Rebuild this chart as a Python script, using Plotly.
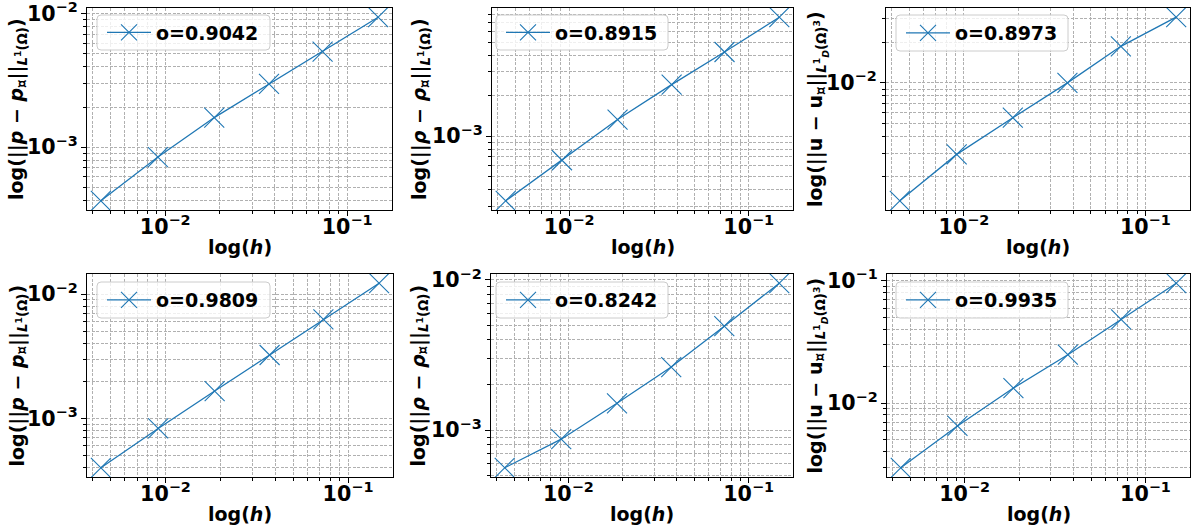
import numpy as np
import plotly.graph_objects as go

# ---------------- data ----------------
h = [0.00443, 0.00912, 0.0186, 0.0372, 0.0733, 0.148]

err_p_top   = [0.000396, 0.000843, 0.001667, 0.00298, 0.0052, 0.00944]
err_rho_top = [0.000330, 0.000661, 0.001327, 0.002415, 0.00422, 0.00766]
err_u_top   = [0.001328, 0.00294, 0.00551, 0.0100, 0.0187, 0.0308]
err_p_bot   = [0.000400, 0.00083, 0.00166, 0.00324, 0.00628, 0.01227]
err_rho_bot = [0.000562, 0.000871, 0.00151, 0.00263, 0.00492, 0.00951]
err_u_bot   = [0.00296, 0.00651, 0.01328, 0.0249, 0.0484, 0.0957]

series = [err_p_top, err_rho_top, err_u_top, err_p_bot, err_rho_bot, err_u_bot]
orders = ["o=0.9042", "o=0.8915", "o=0.8973", "o=0.9809", "o=0.8242", "o=0.9935"]

lab_p = "<b>log(||<i>p</i> − <i>p</i><sub>¤</sub>||<sub><i>L</i><sup>1</sup>(Ω)</sub>)</b>"
lab_rho = "<b>log(||<i>ρ</i> − <i>ρ</i><sub>¤</sub>||<sub><i>L</i><sup>1</sup>(Ω)</sub>)</b>"
lab_u = ("<b>log(||u − u<sub>¤</sub>||<sub><i>L</i><sup>1</sup><sub><i>D</i></sub>"
         "(Ω)<sup>3</sup></sub>)</b>")
ylabels = [lab_p, lab_rho, lab_u, lab_p, lab_rho, lab_u]
xlabel = "<b>log(<i>h</i>)</b>"

# ---------------- layout (pixels, window coordinates) ----------------
W, H = 1191, 531
boxes = [  # left, right, top, bottom
    (87, 392, 8, 210), (492, 793, 8, 210), (886, 1190, 8, 210),
    (87, 393, 274, 477), (491, 793, 274, 477), (887, 1190, 274, 477),
]
ytitle_x = [17, 420, 817, 18, 419, 817]
legend_box = [  # left, top, right, bottom
    (97, 15, 270, 50), (496, 15, 668, 50), (896, 15, 1068, 51),
    (97, 282, 270, 318), (496, 282, 668, 318), (896, 282, 1068, 318),
]

FONT = "DejaVu Sans"
BLUE = "#1f77b4"
GRID = "#b0b0b0"
DASH = "3px,1.5px"

def px(v):
    return v / W

def py(v):
    return 1 - v / H

fig = go.Figure()
annotations = []
shapes = []

def lrange(vals):
    lv = np.log10(vals)
    span = lv.max() - lv.min()
    return [lv.min() - 0.05 * span, lv.max() + 0.05 * span]

def rounded_rect(x0, y0, x1, y1, rr=4):
    X, Y = px, py
    return (f"M {X(x0+rr)} {Y(y0)} L {X(x1-rr)} {Y(y0)} "
            f"Q {X(x1)} {Y(y0)} {X(x1)} {Y(y0+rr)} L {X(x1)} {Y(y1-rr)} "
            f"Q {X(x1)} {Y(y1)} {X(x1-rr)} {Y(y1)} L {X(x0+rr)} {Y(y1)} "
            f"Q {X(x0)} {Y(y1)} {X(x0)} {Y(y1-rr)} L {X(x0)} {Y(y0+rr)} "
            f"Q {X(x0)} {Y(y0)} {X(x0+rr)} {Y(y0)} Z")

xr = lrange(h)

for i, (ys, lab) in enumerate(zip(series, orders)):
    n = i + 1
    xa = "x" if n == 1 else f"x{n}"
    ya = "y" if n == 1 else f"y{n}"
    lg = "legend" if n == 1 else f"legend{n}"
    fig.add_trace(go.Scatter(
        x=h, y=ys, mode="lines+markers", name=lab,
        xaxis=xa, yaxis=ya, legend=lg,
        line=dict(color=BLUE, width=1.3),
        marker=dict(symbol="x-thin", size=20, color=BLUE,
                    line=dict(color=BLUE, width=1.1)),
        showlegend=True,
    ))
    l, r, t, b = boxes[i]
    common = dict(
        type="log", dtick=1, exponentformat="power", automargin=False,
        ticklabeloverflow="allow",
        showline=True, linecolor="black", linewidth=1, mirror=True,
        ticks="outside", ticklen=5, tickwidth=1, tickcolor="black",
        tickfont=dict(family=FONT, size=16.5, color="black", weight="bold"),
        showgrid=True, gridcolor=GRID, griddash=DASH, gridwidth=0.8,
        zeroline=False,
        minor=dict(ticks="outside", ticklen=3, tickcolor="black",
                   showgrid=True, gridcolor=GRID, griddash=DASH, gridwidth=0.8),
    )
    bl, bt, br, bb = legend_box[i]
    fig.update_layout({
        ("xaxis" if n == 1 else f"xaxis{n}"): dict(
            common, domain=[px(l), px(r)], anchor=ya, range=xr,
            ticklabelstandoff=-6),
        ("yaxis" if n == 1 else f"yaxis{n}"): dict(
            common, domain=[py(b), py(t)], anchor=xa, range=lrange(ys)),
        lg: dict(
            x=px(bl + 5), y=py((bt + bb) / 2),
            xanchor="left", yanchor="middle",
            bgcolor="rgba(0,0,0,0)", borderwidth=0, itemwidth=44,
            font=dict(family=FONT, size=19, color="black", weight="bold"),
        ),
    })
    shapes.append(dict(
        type="path", xref="paper", yref="paper", layer="above",
        path=rounded_rect(bl, bt, br, bb),
        fillcolor="rgba(255,255,255,0.8)", line=dict(color="#cccccc", width=1),
    ))
    annotations.append(dict(
        text=ylabels[i], xref="paper", yref="paper",
        x=px(ytitle_x[i]), y=py((t + b) / 2), textangle=-90,
        showarrow=False, xanchor="center", yanchor="middle",
        font=dict(family=FONT, size=19, color="black"),
    ))
    annotations.append(dict(
        text=xlabel, xref="paper", yref="paper",
        x=px((l + r) / 2), y=py(b + 37),
        showarrow=False, xanchor="center", yanchor="middle",
        font=dict(family=FONT, size=19, color="black"),
    ))

fig.update_layout(
    width=W, height=H, margin=dict(l=0, r=0, t=0, b=0, autoexpand=False),
    paper_bgcolor="white", plot_bgcolor="white",
    font=dict(family=FONT, color="black"),
    annotations=annotations, shapes=shapes,
)

# remove the browser's default 8px page margin so the figure fills the window
fig.write_html(
    "out.html",
    config={"displayModeBar": False},
    post_script="document.body.style.margin='0';document.body.style.overflow='hidden';",
)
